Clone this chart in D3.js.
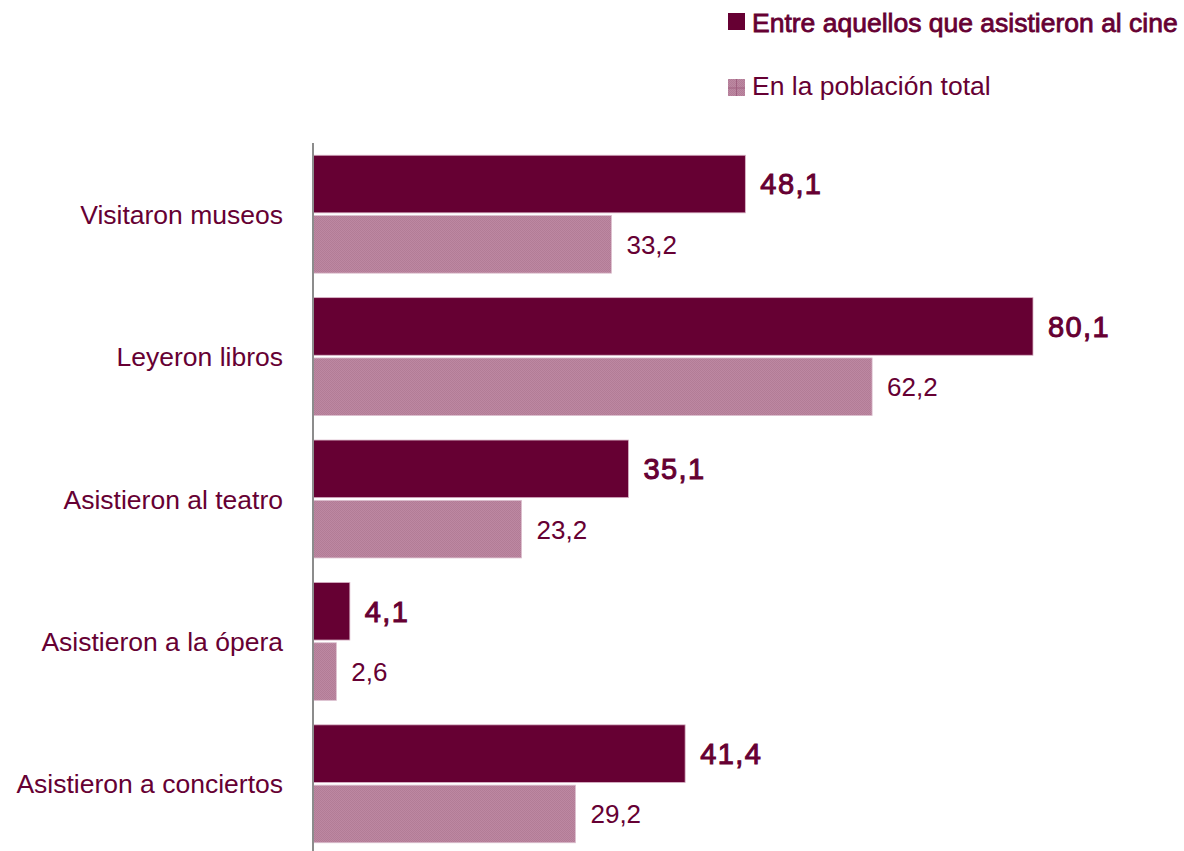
<!DOCTYPE html>
<html><head><meta charset="utf-8">
<script src="https://cdn.jsdelivr.net/npm/d3@7"></script>
<style>body{margin:0;background:#fff}svg{display:block}text{font-family:"Liberation Sans",Arial,sans-serif}</style>
</head><body>
<script>
const categories = ["Visitaron museos","Leyeron libros","Asistieron al teatro","Asistieron a la ópera","Asistieron a conciertos"];
const seriesNames = ["Entre aquellos que asistieron al cine","En la población total"];
const cineValues = [48.1,80.1,35.1,4.1,41.4];
const totalValues = [33.2,62.2,23.2,2.6,29.2];

const W=1184,H=851;
const svg=d3.select("body").append("svg").attr("width",W).attr("height",H);
const defs=svg.append("defs");
const pat=defs.append("pattern").attr("id","chk").attr("patternUnits","userSpaceOnUse").attr("width",2).attr("height",2);
pat.append("rect").attr("width",2).attr("height",2).attr("fill","#bd88a2");
pat.append("rect").attr("width",1).attr("height",1).attr("fill","#b27c96");
pat.append("rect").attr("x",1).attr("y",1).attr("width",1).attr("height",1).attr("fill","#b27c96");

const dark="#660033";
const x=d3.scaleLinear().domain([0,80.1]).range([313,1033]);
const y=d3.scaleBand().domain(categories).range([143,855]).paddingInner(0.172).paddingOuter(0.086);
const ys=d3.scaleBand().domain([0,1]).range([0,y.bandwidth()]).paddingInner(0.045);

const data=categories.map((c,i)=>({c,vals:[cineValues[i],totalValues[i]]}));
const g=svg.append("g");
data.forEach(d=>{
  d.vals.forEach((v,s)=>{
    const y0=y(d.c)+ys(s);
    g.append("rect").attr("x",x(0)).attr("y",y0).attr("width",x(v)-x(0)).attr("height",ys.bandwidth())
      .attr("fill",s===0?dark:"url(#chk)").attr("stroke",s===0?"#d9b3c6":"#dcc0cf").attr("stroke-width",0.8);
    const t=g.append("text").attr("x",x(v)+15).attr("y",y0+ys.bandwidth()/2).attr("dy","0.36em")
      .attr("fill",dark).text(String(v.toFixed(1)).replace(".",","));
    if(s===0) t.attr("font-size",29).attr("letter-spacing",1.4).attr("stroke",dark).attr("stroke-width",1);
    else t.attr("font-size",26);
  });
});
// category labels
categories.forEach(c=>{
  svg.append("text").attr("x",283).attr("y",y(c)+y.bandwidth()/2).attr("dy","0.36em").attr("text-anchor","end")
    .attr("fill",dark).attr("font-size",26.5).text(c);
});
// axis line
svg.append("line").attr("x1",313).attr("x2",313).attr("y1",143).attr("y2",851).attr("stroke","#8c8c8c").attr("stroke-width",2);

// legend
const lg=svg.append("g");
lg.append("rect").attr("x",728).attr("y",13).attr("width",17).attr("height",17).attr("fill",dark);
lg.append("text").attr("x",752).attr("y",22).attr("dy","0.36em").attr("fill",dark).attr("font-size",26.5)
  .attr("stroke",dark).attr("stroke-width",0.8).text(seriesNames[0]);
lg.append("rect").attr("x",728).attr("y",79).attr("width",17).attr("height",17).attr("fill","url(#chk)");
lg.append("line").attr("x1",728).attr("x2",745).attr("y1",88).attr("y2",88).attr("stroke","#a06080").attr("stroke-width",1);
lg.append("line").attr("x1",736.5).attr("x2",736.5).attr("y1",79).attr("y2",96).attr("stroke","#a06080").attr("stroke-width",1);
lg.append("text").attr("x",752).attr("y",85).attr("dy","0.36em").attr("fill",dark).attr("font-size",26.5).text(seriesNames[1]);
</script>
</body></html>
